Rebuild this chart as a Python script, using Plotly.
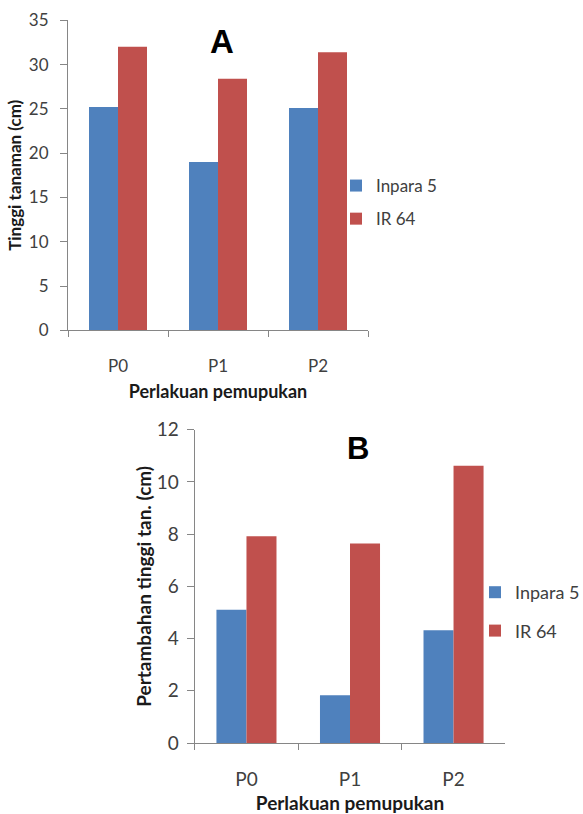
import plotly.graph_objects as go

categories = ["P0", "P1", "P2"]
series_names = ["Inpara 5", "IR 64"]
tinggi_inpara5 = [25.2, 19.0, 25.1]
tinggi_ir64 = [32.0, 28.4, 31.4]
pertambahan_inpara5 = [5.1, 1.83, 4.32]
pertambahan_ir64 = [7.92, 7.64, 10.62]
colors = ["#4F81BD", "#C0504D"]

FONT = "Lato"
W, H = 583, 814

fig = go.Figure()

# Chart A
for name, vals, col in zip(series_names, [tinggi_inpara5, tinggi_ir64], colors):
    fig.add_trace(go.Bar(x=categories, y=vals, name=name, marker=dict(color=col, line=dict(width=0)),
                         xaxis="x", yaxis="y", legend="legend", legendgroup="A" + name))
# Chart B
for name, vals, col in zip(series_names, [pertambahan_inpara5, pertambahan_ir64], colors):
    fig.add_trace(go.Bar(x=categories, y=vals, name=name, marker=dict(color=col, line=dict(width=0)),
                         xaxis="x2", yaxis="y2", legend="legend2", legendgroup="B" + name))

def px_x(p):
    return p / W

def px_y(p):
    return 1 - p / H

axis_common = dict(showline=True, linecolor="#868686", linewidth=1, ticks="outside",
                   tickcolor="#868686", showgrid=False, zeroline=False, automargin=False)

fig.update_layout(
    width=W, height=H, margin=dict(l=0, r=0, t=0, b=0, autoexpand=False),
    paper_bgcolor="white", plot_bgcolor="white",
    barmode="group", bargap=0.42, bargroupgap=0,
    font=dict(family=FONT, color="#404040"),
    xaxis=dict(domain=[px_x(68), px_x(368)], anchor="y", range=[-0.5, 2.5],
               tickson="boundaries", ticklen=6, ticklabelstandoff=20,
               tickfont=dict(size=17, color="#404040"),
               title=dict(text="<b>Perlakuan pemupukan</b>", font=dict(size=18, color="#1a1a1a"), standoff=10),
               **axis_common),
    yaxis=dict(domain=[px_y(330.3), px_y(20.3)], anchor="x", range=[0, 35], dtick=5,
               ticklen=7, ticklabelstandoff=8, tickfont=dict(size=17, color="#404040"),
               title=dict(text="<b>Tinggi tanaman (cm)</b>", font=dict(size=17, color="#1a1a1a"), standoff=2),
               **axis_common),
    xaxis2=dict(domain=[px_x(194.7), px_x(505.3)], anchor="y2", range=[-0.5, 2.5],
                tickson="boundaries", ticklen=6, ticklabelstandoff=19,
                tickfont=dict(size=19, color="#404040"),
                title=dict(text="<b>Perlakuan pemupukan</b>", font=dict(size=19, color="#1a1a1a"), standoff=12),
                **axis_common),
    yaxis2=dict(domain=[px_y(743), px_y(429.7)], anchor="x2", range=[0, 12], dtick=2,
                ticklen=7, ticklabelstandoff=4, tickfont=dict(size=19, color="#404040"),
                title=dict(text="<b>Pertambahan tinggi tan. (cm)</b>", font=dict(size=19, color="#1a1a1a"), standoff=0),
                **axis_common),
    legend=dict(x=px_x(336), y=px_y(168), xanchor="left", yanchor="top",
                font=dict(size=17, color="#404040"), traceorder="grouped", tracegroupgap=8,
                bgcolor="rgba(0,0,0,0)"),
    legend2=dict(x=px_x(475), y=px_y(574), xanchor="left", yanchor="top",
                 font=dict(size=18, color="#404040"), traceorder="grouped", tracegroupgap=12,
                 bgcolor="rgba(0,0,0,0)"),
    annotations=[
        dict(text="<b>A</b>", x=px_x(222), y=px_y(41), xref="paper", yref="paper",
             xanchor="center", yanchor="middle",
             showarrow=False, font=dict(family="Liberation Sans", size=33, color="black")),
        dict(text="<b>B</b>", x=px_x(358), y=px_y(448), xref="paper", yref="paper",
             xanchor="center", yanchor="middle",
             showarrow=False, font=dict(family="Liberation Sans", size=31, color="black")),
    ],
)

fig.write_html("out.html", config={"displayModeBar": False},
               post_script="document.body.style.margin='0';document.body.style.overflow='hidden';")
